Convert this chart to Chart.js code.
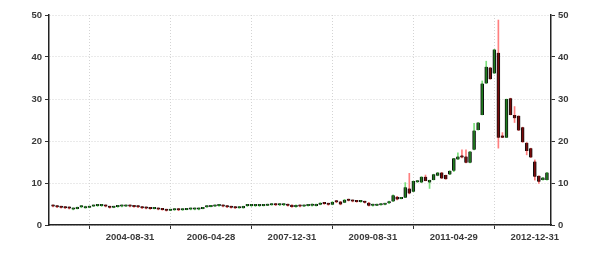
<!DOCTYPE html>
<html>
<head>
<meta charset="utf-8">
<script src="https://cdn.jsdelivr.net/npm/chart.js@4/dist/chart.umd.min.js"></script>
<style>
html,body{margin:0;padding:0;background:#fff;}
#wrap{width:601px;height:254px;position:relative;}
</style>
</head>
<body>
<div id="wrap"><canvas id="c" width="601" height="254"></canvas></div>
<script>
// Monthly candles, index 0 = 2003-01 ... 122 = 2013-03
const monthIndex = Array.from({length:123}, (_, i) => i);
const openVals = [
4.5,4.4,4.2,4.1,4.1,3.7,3.8,4.2,4.0,4.1,
4.4,4.5,4.5,4.5,4.4,4.1,4.3,4.4,4.4,4.5,
4.4,4.3,4.2,4.0,3.9,3.8,3.9,3.7,3.6,3.4,
3.5,3.6,3.5,3.6,3.7,3.7,3.7,3.8,4.2,4.3,
4.4,4.5,4.5,4.4,4.2,4.1,4.0,4.0,4.5,4.5,
4.5,4.5,4.5,4.6,4.7,4.8,4.7,4.7,4.7,4.8,
4.3,4.6,4.4,4.5,4.6,4.5,4.8,5.2,5.0,4.8,
5.5,5.6,5.3,6.0,5.8,5.6,5.5,5.5,5.3,4.6,
4.6,4.7,4.8,5.2,5.6,6.7,6.2,6.5,8.7,7.9,
10.2,10.1,11.5,10.1,10.7,11.7,12.5,11.9,12.0,12.9,
15.6,16.3,16.3,14.8,17.9,22.6,26.2,33.7,37.5,36.1,
41.0,21.3,20.8,30.2,26.2,26.0,23.3,19.6,18.3,15.1,
11.7,10.7,10.7];
const highVals = [
4.6,4.4,4.3,4.2,4.2,4.0,4.3,4.3,4.5,4.5,
4.6,4.6,4.6,4.5,4.4,4.3,4.4,4.5,4.6,4.5,
4.4,4.3,4.2,4.0,3.9,4.0,3.9,3.7,3.6,3.6,
3.7,3.6,3.7,3.8,3.8,3.8,3.8,4.2,4.4,4.5,
4.6,4.6,4.5,4.4,4.2,4.1,4.2,4.5,4.6,4.6,
4.6,4.6,4.7,4.8,4.9,4.8,4.8,4.8,4.8,4.8,
4.8,4.6,4.6,4.7,5.0,5.0,5.3,5.2,5.0,5.6,
5.6,5.6,6.1,6.0,5.8,5.7,5.6,5.5,5.4,4.7,
4.8,4.9,5.0,5.7,7.2,6.8,6.6,10.1,12.3,10.5,
10.5,11.5,11.9,10.7,12.1,12.5,12.5,11.9,12.9,15.9,
17.2,17.9,17.9,17.5,24.2,24.4,34.3,39.0,37.5,41.8,
48.8,22.0,30.0,30.2,28.2,26.0,23.3,19.6,18.3,15.5,
11.7,11.3,12.5];
const lowVals = [
4.3,4.1,4.0,3.9,3.8,3.6,3.8,4.1,4.0,4.1,
4.4,4.4,4.4,4.3,4.0,4.1,4.2,4.3,4.4,4.3,
4.2,4.1,3.9,3.8,3.7,3.8,3.6,3.5,3.3,3.4,
3.5,3.4,3.5,3.6,3.6,3.6,3.6,3.8,4.2,4.3,
4.4,4.4,4.3,4.1,4.0,3.9,4.0,4.0,4.4,4.4,
4.4,4.4,4.5,4.6,4.7,4.6,4.6,4.6,4.5,4.2,
4.2,4.3,4.4,4.5,4.5,4.5,4.8,4.9,4.7,4.8,
5.3,4.8,5.3,5.7,5.5,5.4,5.4,5.2,4.5,4.5,
4.6,4.7,4.8,5.1,5.6,6.0,6.2,6.5,7.4,7.9,
10.1,10.1,10.5,8.7,10.7,11.7,11.1,10.9,12.0,12.7,
15.6,16.0,14.8,14.8,17.9,22.6,26.2,33.7,34.7,36.1,
18.3,20.8,20.8,26.2,24.4,22.5,19.7,16.7,16.1,10.7,
9.9,10.7,10.7];
const closeVals = [
4.4,4.2,4.1,4.0,3.9,3.9,4.2,4.2,4.4,4.4,
4.5,4.5,4.5,4.4,4.1,4.3,4.4,4.4,4.5,4.4,
4.3,4.2,4.0,3.9,3.8,3.9,3.7,3.6,3.4,3.5,
3.6,3.5,3.6,3.7,3.7,3.7,3.7,4.2,4.3,4.4,
4.5,4.5,4.4,4.2,4.1,4.0,4.1,4.5,4.5,4.5,
4.5,4.5,4.6,4.7,4.8,4.7,4.7,4.7,4.6,4.3,
4.7,4.4,4.5,4.6,4.9,5.0,5.2,5.0,4.8,5.5,
5.4,4.9,6.0,5.8,5.6,5.5,5.5,5.3,4.6,4.6,
4.7,4.8,4.9,5.6,7.1,6.1,6.4,9.0,7.5,10.5,
10.4,11.5,10.5,10.7,12.1,12.5,11.1,10.9,12.9,15.9,
16.3,16.1,14.8,17.5,22.5,24.4,33.7,37.7,34.7,41.8,
20.8,20.8,30.0,26.2,25.4,22.5,19.7,17.6,16.1,11.5,
10.3,11.3,12.5];
const yTicks = [0,10,20,30,40,50];
const xTickIndex = [19,39,59,79,99,119];
const xTickLabels = ['2004-08-31','2006-04-28','2007-12-31','2009-08-31','2011-04-29','2012-12-31'];

const up = monthIndex.map(i => closeVals[i] >= openVals[i]);
const bodyData = monthIndex.map(i => ({x:i, y:[Math.min(openVals[i],closeVals[i]), Math.max(openVals[i],closeVals[i])]}));
const wickData = monthIndex.map(i => ({x:i, y:[lowVals[i], highVals[i]]}));

const font = {family:'"Liberation Sans", Arial, sans-serif', size:9.5, weight:'bold'};
new Chart(document.getElementById('c'), {
  type:'bar',
  data:{
    datasets:[
      {label:'body', data:bodyData, grouped:false, order:0, barThickness:3, minBarLength:2,
       backgroundColor: monthIndex.map(i => up[i] ? '#1e7d1e' : '#7a0a0a'),
       borderColor:'#111', borderWidth:{left:1,right:1,top:0,bottom:0}, borderSkipped:false},
      {label:'wick', data:wickData, grouped:false, order:1, barThickness:1,
       backgroundColor: monthIndex.map(i => up[i] ? '#7be07b' : '#ff7f7f'), borderWidth:0}
    ]
  },
  options:{
    responsive:false, animation:false, devicePixelRatio:1,
    layout:{padding:{top:15,left:0,right:0,bottom:0}},
    plugins:{legend:{display:false}, tooltip:{enabled:false}},
    scales:{
      x:{type:'linear', min:-1, max:123, offset:false,
        afterBuildTicks: s => { s.ticks = xTickIndex.map(v => ({value:v})); },
        afterFit: s => { s.height = 29; },
        ticks:{font:font, color:'#3a3a3a', padding:3, maxRotation:0, autoSkip:false,
          callback:(v) => { const k = xTickIndex.indexOf(v); return k >= 0 ? xTickLabels[k] : ''; }},
        grid:{color:'#d4d4d4', tickColor:'#333', tickLength:4, tickBorderDash:[]},
        border:{display:true, color:'#222', width:1.5, dash:[1,2]}
      },
      y:{type:'linear', position:'left', min:0, max:50,
        afterBuildTicks: s => { s.ticks = yTicks.map(v => ({value:v})); },
        afterFit: s => { s.width = 49; },
        ticks:{font:font, color:'#3a3a3a', padding:3},
        grid:{color:'#d4d4d4', tickColor:'#333', tickLength:4, tickBorderDash:[]},
        border:{display:true, color:'#222', width:1.5, dash:[1,2]}
      },
      y2:{type:'linear', position:'right', min:0, max:50,
        afterBuildTicks: s => { s.ticks = yTicks.map(v => ({value:v})); },
        afterFit: s => { s.width = 50; },
        ticks:{font:font, color:'#3a3a3a', padding:3},
        grid:{drawOnChartArea:false, tickColor:'#333', tickLength:4},
        border:{display:true, color:'#222', width:1.5}
      }
    }
  }
});
</script>
</body>
</html>
